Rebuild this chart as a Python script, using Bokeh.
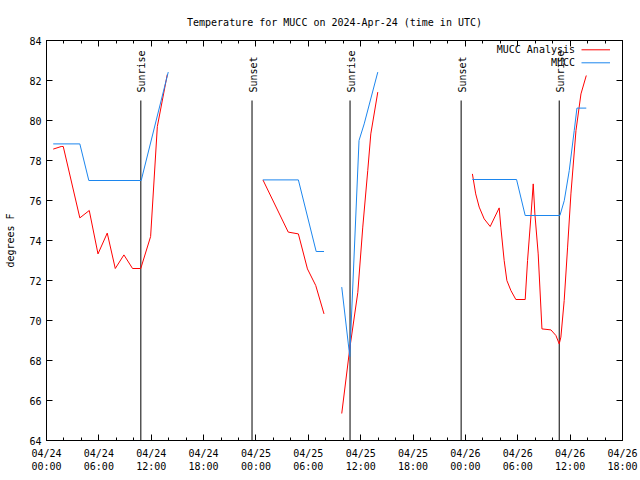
import math
import pandas as pd
from bokeh.plotting import figure
from bokeh.models import (Range1d, FixedTicker, DatetimeTickFormatter, DatetimeAxis,
                          LinearAxis, SingleIntervalTicker, CustomJSTickFormatter,
                          Label, Arrow)
from bokeh.core.properties import value
from bokeh.embed import file_html
from bokeh.resources import INLINE

# ---------------- data (hours after 2024-04-24 00:00 UTC, degrees F) ----------------
BASE = pd.Timestamp("2024-04-24 00:00")
SPAN_HOURS = 66

analysis_hours = [
    [0.77, 1.69, 1.92, 3.82, 4.90, 5.90, 6.96, 7.88, 8.87, 9.86, 10.80, 11.93, 12.70, 13.84],
    [24.80, 27.70, 28.86, 29.90, 30.85, 31.80],
    [33.83, 34.75, 35.67, 36.24, 36.81, 37.16, 37.96],
    [48.80, 49.18, 49.58, 50.15, 50.84, 51.87, 52.06, 52.44, 52.75, 53.21, 53.78, 54.85,
     55.12, 55.50, 55.77, 55.96, 56.34, 56.77, 57.80, 58.37, 58.75, 58.94, 59.32, 59.71,
     60.09, 60.67, 61.24, 61.85],
]
analysis_temps = [
    [78.57, 78.70, 78.70, 75.13, 75.50, 73.33, 74.37, 72.60, 73.28, 72.60, 72.60, 74.20, 79.70, 82.30],
    [77.03, 74.42, 74.33, 72.58, 71.75, 70.33],
    [65.35, 68.60, 71.40, 74.67, 77.50, 79.33, 81.42],
    [77.33, 76.33, 75.67, 75.08, 74.70, 75.63, 74.67, 73.00, 72.00, 71.50, 71.05, 71.05,
     73.00, 75.17, 76.83, 75.33, 73.33, 69.58, 69.53, 69.25, 68.83, 69.17, 71.00, 73.67,
     76.33, 79.50, 81.33, 82.25],
]

obs_hours = [
    [0.77, 3.82, 4.85, 10.85, 13.95],
    [24.80, 28.86, 30.90, 31.80],
    [33.83, 34.75, 35.81, 36.40, 37.96],
    [48.80, 53.86, 54.85, 58.83, 59.33, 59.90, 60.47, 60.78, 61.85],
]
obs_temps = [
    [78.83, 78.83, 77.00, 77.00, 82.42],
    [77.03, 77.03, 73.45, 73.45],
    [71.67, 68.20, 79.00, 79.83, 82.42],
    [77.05, 77.05, 75.25, 75.25, 76.00, 77.50, 79.50, 80.62, 80.62],
]

sun_hours = [10.81, 23.55, 34.78, 47.51, 58.75]
sun_labels = ["Sunrise", "Sunset", "Sunrise", "Sunset", "Sunrise"]

y_min, y_max = 64, 84
tick_hours = list(range(0, SPAN_HOURS + 1, 6))
minor_tick_hours = list(range(0, SPAN_HOURS + 1, 2))

# ---------------- helpers ----------------
def to_dt(hours):
    return [BASE + pd.Timedelta(hours=h) for h in hours]

def to_ms(hours):
    return [(BASE + pd.Timedelta(hours=h)).value / 1e6 for h in hours]

FONT = "DejaVu Sans Mono"
FS = "10px"
RED = "#ff0000"
BLUE = "#1c86ee"

p = figure(width=638, height=478, x_axis_type="datetime",
           x_range=Range1d(BASE.to_pydatetime(), (BASE + pd.Timedelta(hours=SPAN_HOURS)).to_pydatetime()),
           y_range=Range1d(y_min, y_max),
           output_backend="svg", toolbar_location=None,
           min_border_left=46, min_border_right=16, min_border_top=40, min_border_bottom=38,
           title="Temperature for MUCC on 2024-Apr-24 (time in UTC)")

p.background_fill_color = "white"
p.border_fill_color = "white"
p.outline_line_color = "black"
p.outline_line_width = 1
p.grid.visible = False

p.title.align = "center"
p.title.text_font = FONT
p.title.text_font_size = FS
p.title.text_font_style = "normal"
p.title.text_color = "black"
p.title.standoff = 26

ticker = FixedTicker(ticks=to_ms(tick_hours), minor_ticks=to_ms(minor_tick_hours))
fmt = "%m/%d\n%H:%M"
formatter = DatetimeTickFormatter(microseconds=fmt, milliseconds=fmt, seconds=fmt, minsec=fmt,
                                  minutes=fmt, hourmin=fmt, hours=fmt, days=fmt, months=fmt, years=fmt)

xa = p.xaxis[0]
xa.ticker = ticker
xa.formatter = formatter
ya = p.yaxis[0]
ya.ticker = SingleIntervalTicker(interval=2, num_minor_ticks=0)
ya.axis_label = "degrees F"
ya.axis_label_text_font = FONT
ya.axis_label_text_font_size = FS
ya.axis_label_text_font_style = "normal"
ya.axis_label_text_color = "black"
ya.axis_label_standoff = 10

for ax in (xa, ya):
    ax.major_label_text_font = FONT
    ax.major_label_text_font_size = FS
    ax.major_label_text_color = "black"
    ax.axis_line_color = "black"
    ax.major_tick_line_color = "black"
    ax.minor_tick_line_color = "black"
    ax.major_tick_in = 6
    ax.major_tick_out = 0
    ax.minor_tick_in = 3
    ax.minor_tick_out = 0
xa.major_label_standoff = 7
ya.major_label_standoff = 5
ya.minor_tick_in = 0

blank = CustomJSTickFormatter(code="return ''")
top_axis = DatetimeAxis(ticker=ticker, formatter=blank, major_tick_in=6, major_tick_out=0,
                        minor_tick_in=3, minor_tick_out=0, major_label_standoff=0,
                        axis_line_color="black", major_tick_line_color="black",
                        minor_tick_line_color="black")
right_axis = LinearAxis(ticker=SingleIntervalTicker(interval=2, num_minor_ticks=0), formatter=blank,
                        major_tick_in=6, major_tick_out=0, minor_tick_in=0, minor_tick_out=0,
                        major_label_standoff=0, axis_line_color="black",
                        major_tick_line_color="black")
p.add_layout(top_axis, "above")
p.add_layout(right_axis, "right")

# sunrise / sunset markers
sun_x = to_dt(sun_hours)
p.segment(x0=sun_x, y0=[y_min] * len(sun_x), x1=sun_x, y1=[81.0] * len(sun_x),
          line_color="black", line_width=1)
p.text(x=sun_x, y=[81.4] * len(sun_x), text=sun_labels, angle=math.pi / 2,
       text_align="left", text_baseline="middle", x_offset=1,
       text_font=value(FONT), text_font_size=FS, text_color="black")

# series
for hrs, temps in zip(analysis_hours, analysis_temps):
    p.line(to_dt(hrs), temps, line_color=RED, line_width=1)
for hrs, temps in zip(obs_hours, obs_temps):
    p.line(to_dt(hrs), temps, line_color=BLUE, line_width=1)

# legend (gnuplot style: text then line sample), placed in frame screen units
legend_rows = [("MUCC Analysis", RED, 390.7), ("MUCC", BLUE, 377.7)]
for name, col, yy in legend_rows:
    p.add_layout(Label(x=528.5, y=yy, x_units="screen", y_units="screen", text=name,
                       text_align="right", text_baseline="middle",
                       text_font=FONT, text_font_size=FS, text_color="black"))
    p.add_layout(Arrow(x_start=535, y_start=yy, x_end=563.5, y_end=yy,
                       start_units="screen", end_units="screen", end=None,
                       line_color=col, line_width=1))

open("out.html", "w").write(file_html(p, INLINE))
